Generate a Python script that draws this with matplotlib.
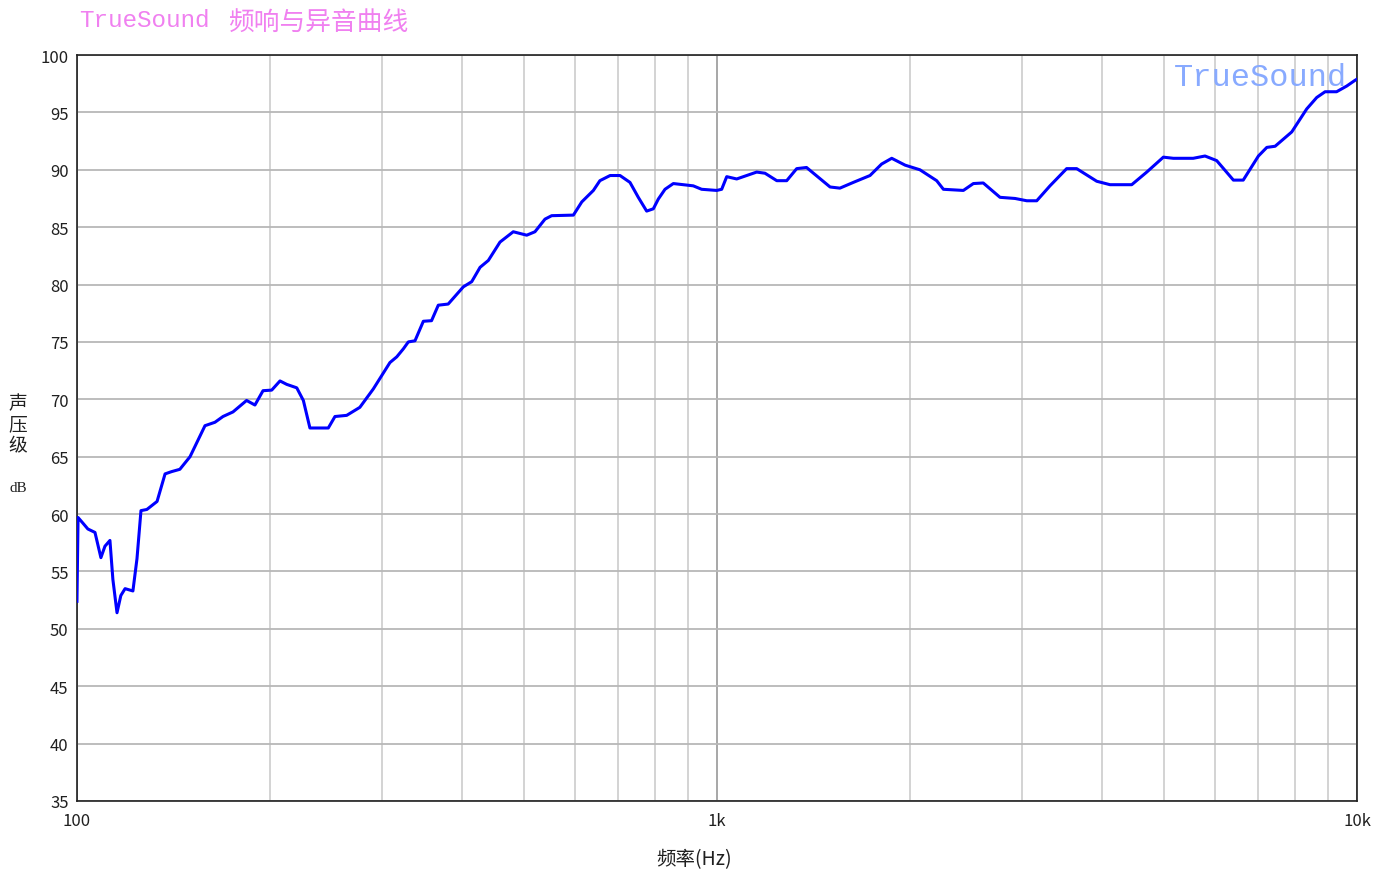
import matplotlib
matplotlib.use('Agg')
import matplotlib.pyplot as plt
from matplotlib.ticker import FixedLocator, FixedFormatter, LogLocator, NullFormatter

plt.rcParams['font.family'] = ['Noto Sans CJK SC', 'DejaVu Sans']

# frequency (Hz) and SPL (dB)
freq = [100, 100.4, 102.2, 104.0, 106.7, 109.0, 110.6, 112.6, 113.8, 115.5,
        117.1, 118.9, 122.3, 124.1, 125.9, 128.6, 133.4, 137.3, 140.6, 144.8,
        150.2, 158.5, 164.3, 169.1, 175.3, 184.1, 189.7, 195.3, 201.5, 207.6,
        212.7, 220.5, 225.8, 231.2, 247.0, 253.0, 263.9, 276.7, 290.4, 308.3,
        316.0, 323.6, 329.4, 337.4, 347.7, 358.1, 366.9, 380.2, 401.5, 413.8,
        426.4, 439.3, 458.1, 480.5, 504.3, 519.5, 538.6, 551.7, 596.5, 614.8,
        641.0, 656.2, 680.8, 705.4, 731.2, 753.4, 776.4, 795.3, 809.7, 829.4,
        854.6, 918.2, 946.2, 998.9, 1017, 1035.6, 1073.5, 1153.4, 1188.5, 1240,
        1285, 1332, 1380, 1502, 1556, 1633, 1734, 1808, 1875, 1968,
        2075, 2204, 2258, 2426, 2515, 2606, 2768, 2922, 3048, 3159,
        3313, 3518, 3647, 3920, 4112, 4446, 4693, 4982, 5164, 5546,
        5787, 6035, 6409, 6640, 7013, 7228, 7447, 7907, 8343, 8650,
        8913, 9290, 9638, 9930, 10000]
spl = [52.4, 59.7, 59.2, 58.7, 58.4, 56.2, 57.2, 57.7, 54.3, 51.4,
       52.9, 53.5, 53.3, 56.1, 60.3, 60.4, 61.1, 63.5, 63.7, 63.9,
       65.0, 67.7, 68.0, 68.5, 68.9, 69.9, 69.5, 70.75, 70.8, 71.6,
       71.3, 71.0, 69.9, 67.5, 67.5, 68.5, 68.6, 69.3, 70.9, 73.2,
       73.7, 74.4, 75.0, 75.1, 76.8, 76.85, 78.2, 78.3, 79.8, 80.25,
       81.5, 82.1, 83.7, 84.6, 84.3, 84.6, 85.7, 86.0, 86.05, 87.2,
       88.2, 89.05, 89.5, 89.5, 88.9, 87.6, 86.4, 86.6, 87.45, 88.3,
       88.8, 88.6, 88.3, 88.2, 88.3, 89.4, 89.2, 89.8, 89.7, 89.05,
       89.05, 90.1, 90.2, 88.5, 88.4, 88.9, 89.5, 90.5, 91.0, 90.4,
       90.0, 89.05, 88.3, 88.2, 88.8, 88.85, 87.6, 87.5, 87.3, 87.3,
       88.6, 90.1, 90.1, 89.0, 88.7, 88.7, 89.8, 91.1, 91.0, 91.0,
       91.2, 90.8, 89.1, 89.1, 91.2, 91.95, 92.05, 93.3, 95.3, 96.3,
       96.8, 96.8, 97.3, 97.8, 97.9]

x_ticks = [100, 1000, 10000]
x_labels = ['100', '1k', '10k']
y_ticks = list(range(35, 101, 5))

fig = plt.figure(figsize=(13.89, 8.78), dpi=100)
ax = fig.add_axes([0.0554, 0.0866, 0.9216, 0.8496])

ax.plot(freq, spl, color='#0000ff', lw=2.2, zorder=3)

ax.set_xscale('log')
ax.set_xlim(100, 10000)
ax.set_ylim(35, 100)
ax.xaxis.set_major_locator(FixedLocator(x_ticks))
ax.xaxis.set_major_formatter(FixedFormatter(x_labels))
ax.xaxis.set_minor_locator(LogLocator(base=10, subs=range(2, 10)))
ax.xaxis.set_minor_formatter(NullFormatter())
ax.set_yticks(y_ticks)

ax.grid(True, which='major', axis='x', color='#a0a0a0', lw=1.3)
ax.grid(True, which='minor', axis='x', color='#d0d0d0', lw=1.3)
ax.grid(True, which='major', axis='y', color='#b8b8b8', lw=1.3)
ax.tick_params(which='both', length=0, labelsize=12, colors='#202020', pad=6)
ax.tick_params(axis='x', pad=8)
for s in ax.spines.values():
    s.set_linewidth(1.2)
    s.set_color('#202020')

fig.text(0.057, 0.977, 'TrueSound', color='#f080f0', fontsize=17.5,
         family='Liberation Mono', va='center', ha='left')
fig.text(0.164, 0.973, '频响与异音曲线', color='#f080f0', fontsize=18.5,
         va='center', ha='left')
ax.text(0.992, 0.99, 'TrueSound', transform=ax.transAxes, color='#88aaff',
        fontsize=23, family='Liberation Mono', va='top', ha='right')

fig.text(0.013, 0.516, '声\n压\n级', fontsize=13.5, ha='center', va='center',
         linespacing=1.0, color='#202020')
fig.text(0.013, 0.444, 'dB', fontsize=11, ha='center', va='center',
         family='Liberation Serif', color='#202020')
fig.text(0.5, 0.021, '频率(Hz)', fontsize=14, ha='center', va='center',
         color='#202020')

fig.savefig('out.png', dpi=100)
